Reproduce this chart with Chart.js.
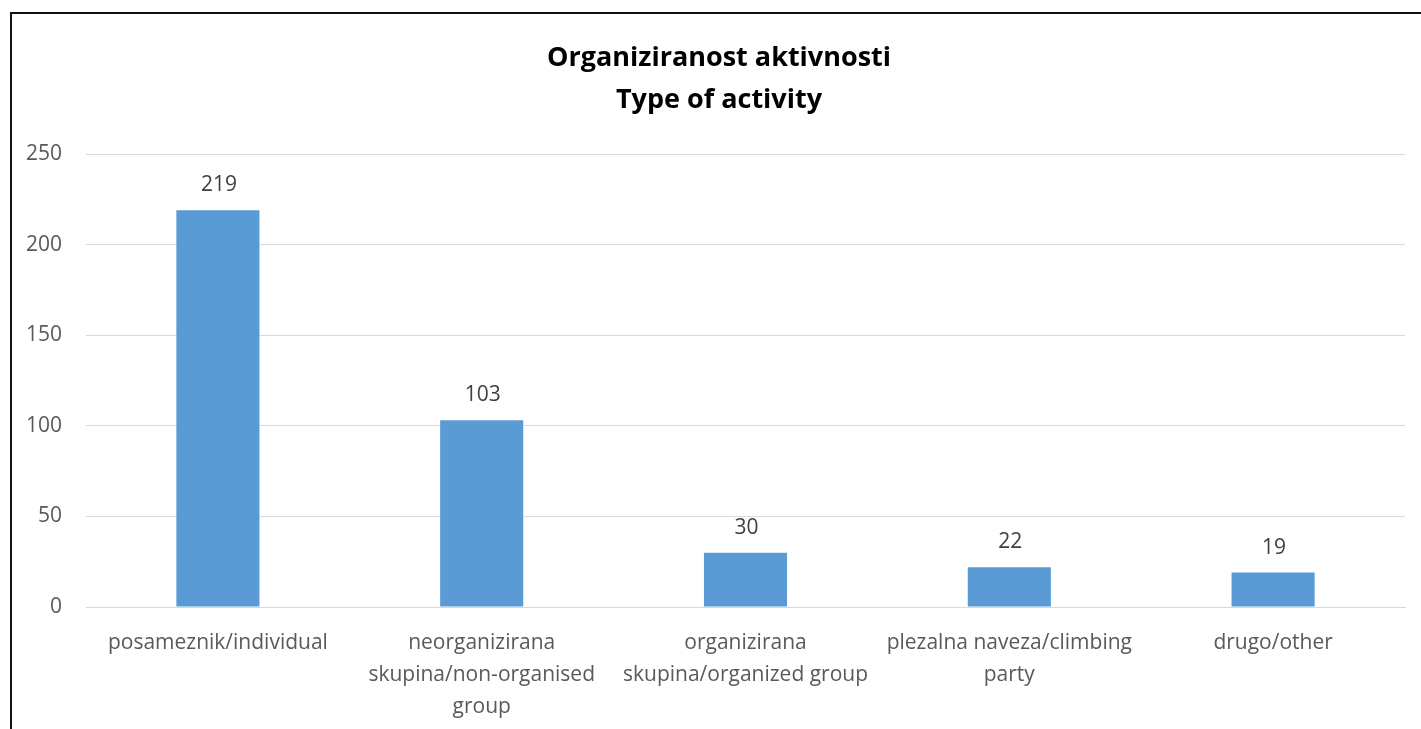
<!DOCTYPE html>
<html>
<head>
<meta charset="utf-8">
<script src="https://cdn.jsdelivr.net/npm/chart.js@4/dist/chart.umd.min.js"></script>
<style>
  html, body { margin: 0; padding: 0; background: #fff; overflow: hidden; width: 1421px; height: 729px; }
  #frame { position: absolute; left: 10px; top: 12px; width: 1430px; height: 740px; border: 2px solid #111; box-sizing: border-box; }
  #c { position: absolute; left: 0; top: 0; }
</style>
</head>
<body>
<div id="frame"></div>
<canvas id="c" width="1421" height="729"></canvas>
<script>
const titleLines = ["Organiziranost aktivnosti", "Type of activity"];
const categories = [
  ["posameznik/individual"],
  ["neorganizirana", "skupina/non-organised", "group"],
  ["organizirana", "skupina/organized group"],
  ["plezalna naveza/climbing", "party"],
  ["drugo/other"]
];
const values = [219, 103, 30, 22, 19];
const yMin = 0, yMax = 250, yStep = 50;

const FONT = "'Open Sans', 'Noto Sans', sans-serif";

const valueLabels = {
  id: 'valueLabels',
  afterDatasetsDraw(chart) {
    const ctx = chart.ctx;
    const meta = chart.getDatasetMeta(0);
    ctx.save();
    ctx.font = "21px " + FONT;
    ctx.fillStyle = "#404040";
    ctx.textAlign = "center";
    ctx.textBaseline = "middle";
    meta.data.forEach((el, i) => {
      ctx.fillText(String(chart.data.datasets[0].data[i]), el.x + 1, el.y - 25);
    });
    ctx.restore();
  }
};

const chartTitle = {
  id: 'chartTitle',
  afterDraw(chart) {
    const ctx = chart.ctx;
    ctx.save();
    ctx.font = "bold 27px " + FONT;
    ctx.fillStyle = "#000";
    ctx.textAlign = "center";
    ctx.textBaseline = "middle";
    titleLines.forEach((line, i) => {
      ctx.fillText(line, 719, 58 + i * 42);
    });
    ctx.restore();
  }
};

new Chart(document.getElementById('c'), {
  type: 'bar',
  data: {
    labels: categories,
    datasets: [{
      data: values,
      backgroundColor: '#5b9bd5',
      borderWidth: 0,
      categoryPercentage: 1,
      barPercentage: 0.315
    }]
  },
  options: {
    responsive: false,
    animation: false,
    devicePixelRatio: 1,
    layout: { padding: { top: 154, right: 16, bottom: 0, left: 0 } },
    plugins: {
      legend: { display: false },
      tooltip: { enabled: false },
      title: { display: false }
    },
    scales: {
      x: {
        grid: { display: false, drawTicks: false },
        border: { display: true, color: '#d9d9d9', width: 1 },
        ticks: {
          color: '#595959',
          font: { family: FONT, size: 21, lineHeight: 1.524 },
          padding: 20,
          maxRotation: 0,
          autoSkip: false
        },
        afterFit(scale) { scale.height = 122; }
      },
      y: {
        min: yMin, max: yMax,
        grid: { color: '#d9d9d9', lineWidth: 1, drawTicks: false },
        border: { display: false },
        ticks: {
          stepSize: yStep,
          color: '#595959',
          font: { family: FONT, size: 21 },
          padding: 24
        },
        afterFit(scale) { scale.width = 86; }
      }
    }
  },
  plugins: [valueLabels, chartTitle]
});
</script>
</body>
</html>
